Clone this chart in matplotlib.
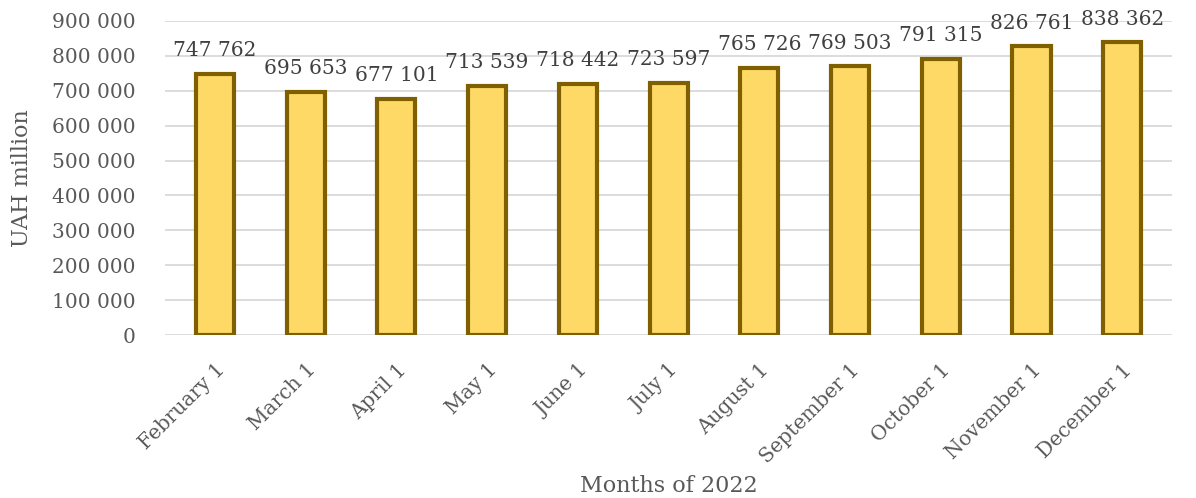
import matplotlib
matplotlib.use("Agg")
import matplotlib.pyplot as plt
from matplotlib.ticker import FuncFormatter

months = ["February 1", "March 1", "April 1", "May 1", "June 1", "July 1",
          "August 1", "September 1", "October 1", "November 1", "December 1"]
values = [747762, 695653, 677101, 713539, 718442, 723597,
          765726, 769503, 791315, 826761, 838362]
yticks = list(range(0, 900001, 100000))

TEXT = "#595959"
plt.rcParams["font.family"] = ["DejaVu Serif"]


def spaced(v, _pos=None):
    return f"{int(v):,}".replace(",", " ")


fig = plt.figure(figsize=(11.96, 4.98), dpi=100)
ax = fig.add_axes([0.138, 0.327, 0.842, 0.631])

x = range(len(months))
ax.bar(x, values, width=0.42, color="#ffd966", edgecolor="#7f6000",
       linewidth=3, zorder=3)

for xi, v in zip(x, values):
    ax.annotate(spaced(v), (xi, v), xytext=(0, 10), textcoords="offset points",
                ha="center", va="bottom", fontsize=14.5, color="#404040")

ax.set_ylim(0, 900000)
ax.set_xlim(-0.55, len(months) - 0.45)
ax.set_yticks(yticks)
ax.yaxis.set_major_formatter(FuncFormatter(spaced))
ax.set_xticks(list(x))
ax.set_xticklabels(months, rotation=45, ha="right", rotation_mode="anchor")
ax.tick_params(axis="both", length=0, colors=TEXT)
ax.tick_params(axis="y", labelsize=14.5, pad=21)
ax.tick_params(axis="x", labelsize=14.5, pad=18)
ax.grid(axis="y", color="#d9d9d9", linewidth=1.3, zorder=0)
for s in ax.spines.values():
    s.set_visible(False)

# axis titles placed in figure coordinates
fig.text(0.018, 0.327 + 0.631 / 2, "UAH million", rotation=90, ha="center",
         va="center", fontsize=16, color=TEXT)
fig.text(0.138 + 0.842 / 2, 0.025, "Months of 2022", ha="center",
         va="center", fontsize=16, color=TEXT)

fig.savefig("out.png", dpi=100)
